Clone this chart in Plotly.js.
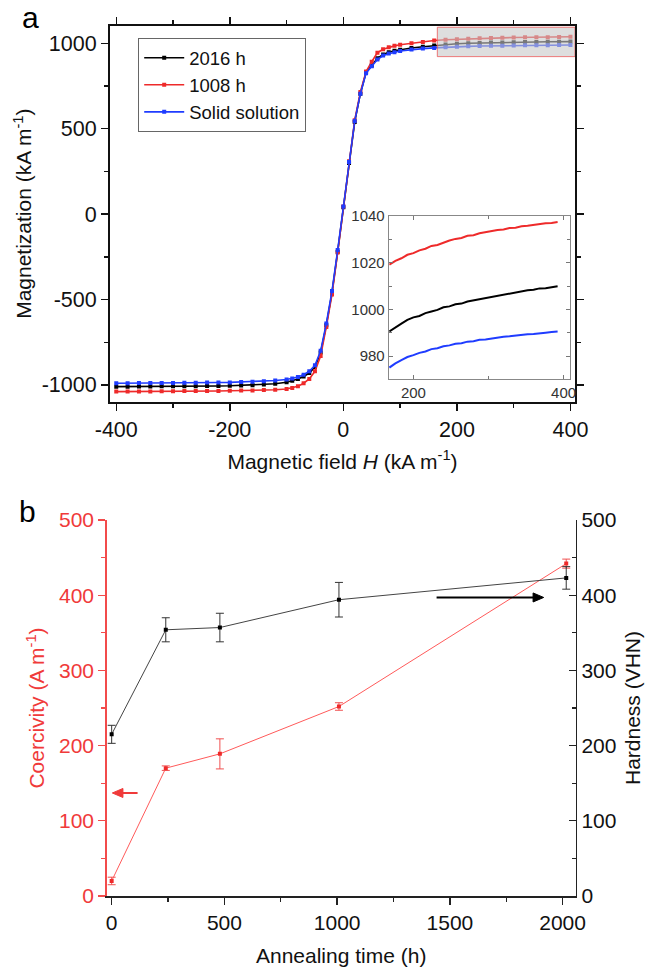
<!DOCTYPE html>
<html><head><meta charset="utf-8">
<script src="https://cdn.plot.ly/plotly-3.0.1.min.js"></script>
<style>html,body{margin:0;padding:0;background:#fff}#chart{width:649px;height:967px}</style>
</head><body><div id="chart"></div>
<script>
// ---------- Panel a: magnetization curves ----------
const fieldH = [-400,-380,-360,-340,-320,-300,-280,-260,-240,-220,-200,-180,-160,-140,-120,-100,-90,-80,-70,-60,-50,-40,-30,-20,-10,0,10,20,30,40,50,60,70,80,90,100,120,140,160,180,200,220,240,260,280,300,320,340,360,380,400];
const m2016 = [-1010,-1010,-1009,-1009,-1008,-1008,-1007,-1007,-1006,-1006,-1005,-1003,-1001,-998,-993,-984,-976,-965,-950,-930,-895,-810,-650,-460,-220,40,300,540,705,830,870,912,935,948,956,962,972,980,987,993,997,1000,1002,1004,1005,1006,1007,1008,1009,1009,1010];
const m1008 = [-1039,-1039,-1038,-1038,-1037,-1037,-1036,-1036,-1035,-1035,-1034,-1033,-1032,-1030,-1028,-1024,-1018,-1008,-990,-965,-920,-830,-660,-470,-225,45,310,550,715,835,892,945,965,977,985,991,1000,1008,1016,1021,1024,1027,1029,1031,1032,1034,1035,1036,1036,1037,1038];
const mSolid = [-990,-990,-989,-989,-988,-988,-987,-987,-986,-986,-985,-983,-981,-978,-974,-968,-962,-953,-940,-920,-885,-800,-640,-450,-210,45,305,545,705,825,865,905,928,940,948,955,963,969,973,977,980,982,984,985,986,987,988,989,989,990,990];
const seriesNames = ['2016 h', '1008 h', 'Solid solution'];
const fieldTickVals = [-400, -200, 0, 200, 400];
const fieldTickText = ['-400', '-200', '0', '200', '400'];
const magTickVals = [-1000, -500, 0, 500, 1000];
const magTickText = ['-1000', '-500', '0', '500', '1000'];

// inset (zoom of the saturation region)
const insetH = [168,176,184,192,200,208,216,224,232,240,248,256,264,272,280,288,296,304,312,320,328,336,344,352,360,368,376,384,392];
const in1008 = [1019.2,1020.8,1021.9,1023.4,1024.1,1025.3,1026.0,1027.2,1027.6,1028.7,1029.5,1030.2,1030.6,1031.5,1031.8,1032.6,1033.1,1033.4,1034.0,1034.2,1034.9,1035.0,1035.6,1035.8,1036.2,1036.3,1036.9,1037.0,1037.4];
const in2016 = [990.6,992.4,993.9,995.5,996.6,997.2,998.4,999.1,999.8,1000.9,1001.3,1002.2,1002.5,1003.4,1003.9,1004.3,1005.0,1005.4,1005.9,1006.5,1006.8,1007.5,1007.7,1008.2,1008.4,1009.0,1009.1,1009.6,1009.9];
const inSolid = [975.1,976.9,978.3,979.6,980.4,981.4,982.0,983.0,983.4,984.2,984.6,985.3,985.5,986.2,986.4,987.0,987.1,987.6,987.8,988.3,988.5,988.9,989.0,989.4,989.5,989.9,990.0,990.3,990.5];

// ---------- Panel b: coercivity & hardness ----------
const annealTime = [0, 240, 480, 1008, 2016];
const coercivity = [20, 170, 189, 252, 442];
const coercivityErr = [5, 3, 20, 5, 6];
const hardness = [215, 354, 357, 394, 423];
const hardnessErr = [12, 16, 19, 23, 15];

const W = 649, Hh = 967;
const px = p => p / W;
const py = p => 1 - p / Hh;
const FONT = 'Liberation Sans, Arial, sans-serif';
const cBlack = '#000000', cRed = '#ee2a2a', cBlue = '#1f3cff';
const cRedB = '#f24b4b';

const mainStyle = (c) => ({mode: 'lines+markers', line: {color: c, width: 1.6}, marker: {color: c, symbol: 'square', size: 4}});

const traces = [
  Object.assign({x: fieldH, y: m2016, name: seriesNames[0], xaxis: 'x', yaxis: 'y'}, mainStyle(cBlack)),
  Object.assign({x: fieldH, y: m1008, name: seriesNames[1], xaxis: 'x', yaxis: 'y'}, mainStyle(cRed)),
  Object.assign({x: fieldH, y: mSolid, name: seriesNames[2], xaxis: 'x', yaxis: 'y'}, mainStyle(cBlue)),
  {x: insetH, y: in1008, xaxis: 'x2', yaxis: 'y2', mode: 'lines', line: {color: cRed, width: 2}, showlegend: false},
  {x: insetH, y: in2016, xaxis: 'x2', yaxis: 'y2', mode: 'lines', line: {color: cBlack, width: 2}, showlegend: false},
  {x: insetH, y: inSolid, xaxis: 'x2', yaxis: 'y2', mode: 'lines', line: {color: cBlue, width: 2}, showlegend: false},
  {x: annealTime, y: coercivity, xaxis: 'x3', yaxis: 'y3', mode: 'lines+markers', showlegend: false,
   line: {color: '#ff5a5a', width: 1}, marker: {color: cRed, symbol: 'square', size: 4},
   error_y: {type: 'data', array: coercivityErr, visible: true, color: '#f05050', thickness: 1, width: 4}},
  {x: annealTime, y: hardness, xaxis: 'x3', yaxis: 'y4', mode: 'lines+markers', showlegend: false,
   line: {color: '#444444', width: 1}, marker: {color: '#000', symbol: 'square', size: 4},
   error_y: {type: 'data', array: hardnessErr, visible: true, color: '#333', thickness: 1, width: 4}}
];

const tf = (s, c) => ({family: FONT, size: s, color: c || '#111'});

const layout = {
  width: W, height: Hh,
  margin: {l: 0, r: 0, t: 0, b: 0},
  paper_bgcolor: '#fff', plot_bgcolor: '#fff',
  font: {family: FONT, color: '#111'},
  showlegend: true,
  legend: {x: px(138), y: py(38), xanchor: 'left', yanchor: 'top', bgcolor: '#fff',
           bordercolor: '#666', borderwidth: 1.2, font: tf(18.5), itemwidth: 40, tracegroupgap: 0},
  xaxis: {domain: [px(110), px(575)], anchor: 'y', range: [-411, 408],
          tickmode: 'array', tickvals: fieldTickVals, ticktext: fieldTickText,
          ticks: 'outside', ticklen: 7, tickwidth: 1.5, tickcolor: '#111', mirror: 'allticks',
          showline: true, linecolor: '#111', linewidth: 2, showgrid: false, zeroline: false,
          minor: {tick0: 0, dtick: 100, ticks: 'outside', ticklen: 4, tickwidth: 1.5, tickcolor: '#111', showgrid: false},
          tickfont: tf(21.5), title: {text: 'Magnetic field <i>H</i> (kA m<sup>-1</sup>)', font: tf(21), standoff: 14}},
  yaxis: {domain: [py(401.7), py(25.7)], anchor: 'x', range: [-1098, 1103],
          tickmode: 'array', tickvals: magTickVals, ticktext: magTickText,
          ticks: 'outside', ticklen: 7, tickwidth: 1.5, tickcolor: '#111', mirror: 'allticks',
          showline: true, linecolor: '#111', linewidth: 2, showgrid: false, zeroline: false,
          minor: {tick0: 0, dtick: 250, ticks: 'outside', ticklen: 4, tickwidth: 1.5, tickcolor: '#111', showgrid: false},
          tickfont: tf(21.5), title: {text: 'Magnetization (kA m<sup>-1</sup>)', font: tf(21), standoff: 4}},
  xaxis2: {domain: [px(389), px(570)], anchor: 'y2', range: [167.5, 408.5], tick0: 0, dtick: 200,
           ticks: 'inside', ticklen: 4, tickcolor: '#777', mirror: 'allticks', showline: true,
           linecolor: '#888', linewidth: 1.3, showgrid: false, zeroline: false,
           minor: {dtick: 100, ticks: 'inside', ticklen: 3, tickcolor: '#777', showgrid: false},
           tickfont: tf(15, '#333')},
  yaxis2: {domain: [py(379), py(216)], anchor: 'x2', range: [970.2, 1040], tick0: 0, dtick: 20,
           ticks: 'inside', ticklen: 4, tickcolor: '#777', mirror: 'allticks', showline: true,
           linecolor: '#888', linewidth: 1.3, showgrid: false, zeroline: false,
           minor: {dtick: 10, ticks: 'inside', ticklen: 3, tickcolor: '#777', showgrid: false},
           tickfont: tf(15, '#333')},
  xaxis3: {domain: [px(106.7), px(575.7)], anchor: 'y3', range: [-22, 2058], tick0: 0, dtick: 500,
           ticks: 'outside', ticklen: 7, tickwidth: 1.3, tickcolor: '#222', showline: true,
           linecolor: '#222', linewidth: 1.5, showgrid: false, zeroline: false,
           minor: {dtick: 250, ticks: 'outside', ticklen: 4, tickwidth: 1.3, tickcolor: '#222', showgrid: false},
           tickfont: tf(21), title: {text: 'Annealing time (h)', font: tf(21), standoff: 16}},
  xaxis4: {overlaying: 'x3', anchor: 'y3', side: 'top', range: [-22, 2058], tick0: 0, dtick: 500,
           ticks: 'inside', ticklen: 7, tickwidth: 1.3, tickcolor: '#222', showline: true,
           linecolor: '#222', linewidth: 1.5, showgrid: false, zeroline: false, showticklabels: false,
           minor: {dtick: 250, ticks: 'inside', ticklen: 4, tickwidth: 1.3, tickcolor: '#222', showgrid: false}},
  yaxis3: {domain: [py(896), py(520)], anchor: 'x3', range: [0, 500], tick0: 0, dtick: 100,
           ticks: 'outside', ticklen: 7, tickwidth: 1.3, tickcolor: cRedB, showline: true,
           linecolor: cRedB, linewidth: 1.5, showgrid: false, zeroline: false,
           minor: {dtick: 50, ticks: 'outside', ticklen: 4, tickwidth: 1.3, tickcolor: cRedB, showgrid: false},
           tickfont: tf(21, '#f03a3a'), title: {text: 'Coercivity (A m<sup>-1</sup>)', font: tf(21, '#f03a3a'), standoff: 8}},
  yaxis4: {overlaying: 'y3', anchor: 'x3', side: 'right', range: [0, 500], tick0: 0, dtick: 100,
           ticks: 'inside', ticklen: 7, tickwidth: 1.3, tickcolor: '#222', showline: true,
           linecolor: '#222', linewidth: 1.5, showgrid: false, zeroline: false,
           minor: {dtick: 50, ticks: 'inside', ticklen: 4, tickwidth: 1.3, tickcolor: '#222', showgrid: false},
           tickfont: tf(21), title: {text: 'Hardness (VHN)', font: tf(21), standoff: 10}},
  shapes: [
    {type: 'rect', xref: 'x', yref: 'y', x0: 165.5, x1: 408, y0: 922, y1: 1094, layer: 'above',
     fillcolor: 'rgba(200,200,200,0.6)', line: {color: 'rgba(235,90,90,0.8)', width: 1}},
    // red arrow (points to the coercivity axis)
    {type: 'line', xref: 'x3', yref: 'y3', x0: 115, x1: 45, y0: 137, y1: 137, line: {color: '#f03a3a', width: 2}},
    {type: 'path', xref: 'x3', yref: 'y3', path: 'M 3,137 L 50,143 L 50,131 Z', fillcolor: '#f03a3a', line: {color: '#f03a3a', width: 1}},
    // black arrow (points to the hardness axis)
    {type: 'line', xref: 'x3', yref: 'y3', x0: 1441, x1: 1875, y0: 397, y1: 397, line: {color: '#000', width: 2}},
    {type: 'path', xref: 'x3', yref: 'y3', path: 'M 1916,397 L 1869,403 L 1869,391 Z', fillcolor: '#000', line: {color: '#000', width: 1}}
  ],
  annotations: [
    {text: 'a', xref: 'paper', yref: 'paper', x: px(30), y: py(17), xanchor: 'center', yanchor: 'middle', showarrow: false, font: tf(30, '#000')},
    {text: 'b', xref: 'paper', yref: 'paper', x: px(27), y: py(511), xanchor: 'center', yanchor: 'middle', showarrow: false, font: tf(30, '#000')}
  ]
};

Plotly.newPlot('chart', traces, layout, {displayModeBar: false, staticPlot: true});
</script>
</body></html>
